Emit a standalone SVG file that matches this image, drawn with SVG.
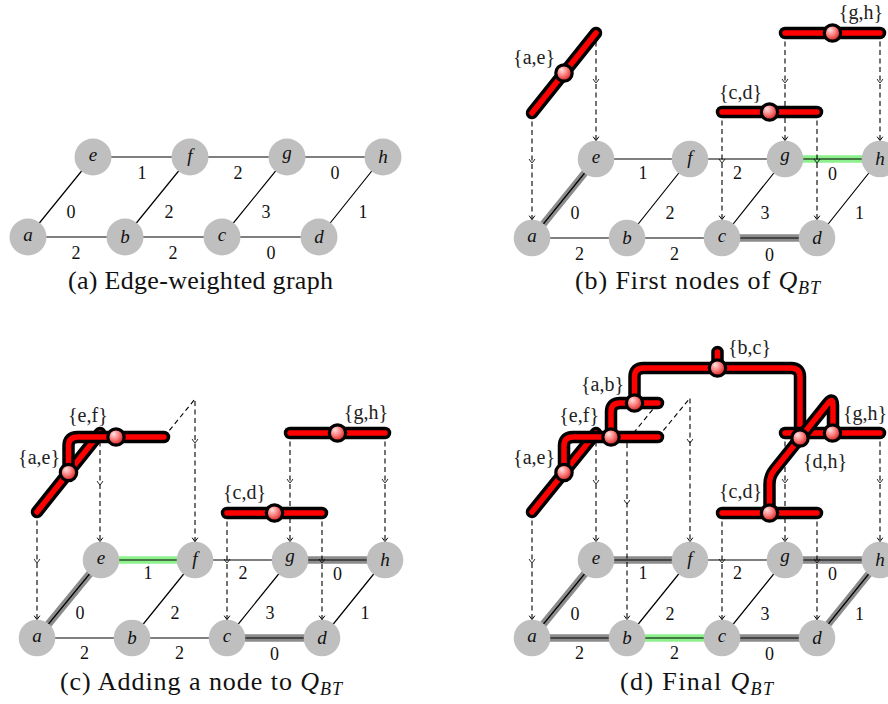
<svg xmlns="http://www.w3.org/2000/svg" xmlns:xlink="http://www.w3.org/1999/xlink" width="888" height="704" viewBox="0 0 888 704">
<style>
text{font-family:"Liberation Serif","Times New Roman",serif}
.nd{fill:#bfbfbf}
.ed{stroke:#000;stroke-width:1.2;fill:none}
.hg{stroke:#8c8c8c;stroke-width:7.5;fill:none}
.hl{stroke:#8cf08c;stroke-width:7.5;fill:none}
.lb{font-style:italic;font-size:19px;text-anchor:middle;fill:#111}
.wt{font-size:18px;text-anchor:middle;fill:#111}
.tl{font-size:20px;fill:#222}
.cap{font-size:26px;text-anchor:middle;fill:#111}
.dsh{stroke:#000;stroke-width:1.1;stroke-dasharray:5 3.5;fill:none}
.bk{stroke:#000;stroke-width:12.5;stroke-linecap:round;stroke-linejoin:round;fill:none}
.rd{stroke:#ff0000;stroke-width:5.5;stroke-linecap:round;stroke-linejoin:round;fill:none}
.tn{fill:url(#ball);stroke:#000;stroke-width:3.2}
</style>
<defs>
<radialGradient id="ball" cx="0.42" cy="0.4" r="0.62" fx="0.35" fy="0.3">
<stop offset="0" stop-color="#ffe4e4"/>
<stop offset="0.45" stop-color="#ff8a8a"/>
<stop offset="1" stop-color="#d81818"/>
</radialGradient>
<path id="ah" d="M-2.8,-3.8 C-1.6,-1.9 -0.5,-0.6 0,0 C0.5,-0.6 1.6,-1.9 2.8,-3.8" fill="none" stroke="#000" stroke-width="1"/>
</defs>

<!-- ================= Panel (a) ================= -->
<g id="panel-a">
<g id="a-edges">
<path class="ed" d="M28,237H319M93,157H383M28,237L93,157M125,237L190,157M222,237L287,157M319,237L383,157"/>
</g>
<g id="a-a"><circle class="nd" cx="28" cy="237" r="18.5"/><text class="lb" x="28" y="241">a</text></g>
<g id="a-b"><circle class="nd" cx="125" cy="237" r="18.5"/><text class="lb" x="125" y="243">b</text></g>
<g id="a-c"><circle class="nd" cx="222" cy="237" r="18.5"/><text class="lb" x="222" y="241">c</text></g>
<g id="a-d"><circle class="nd" cx="319" cy="237" r="18.5"/><text class="lb" x="319" y="243">d</text></g>
<g id="a-e"><circle class="nd" cx="93" cy="157" r="18.5"/><text class="lb" x="93" y="161">e</text></g>
<g id="a-f"><circle class="nd" cx="190" cy="157" r="18.5"/><text class="lb" x="190" y="161.5">f</text></g>
<g id="a-g"><circle class="nd" cx="287" cy="157" r="18.5"/><text class="lb" x="287" y="159">g</text></g>
<g id="a-h"><circle class="nd" cx="383" cy="157" r="18.5"/><text class="lb" x="383" y="163">h</text></g>
<g id="a-weights">
<text class="wt" x="142" y="179">1</text><text class="wt" x="238" y="179">2</text><text class="wt" x="335" y="179">0</text>
<text class="wt" x="71" y="218">0</text><text class="wt" x="169" y="218">2</text><text class="wt" x="266" y="218">3</text><text class="wt" x="363" y="218">1</text>
<text class="wt" x="76" y="259">2</text><text class="wt" x="173" y="259">2</text><text class="wt" x="271" y="259">0</text>
</g>
<text class="cap" x="200.5" y="289" textLength="265" lengthAdjust="spacing">(a) Edge-weighted graph</text>
</g>

<!-- ================= Panel (b) ================= -->
<g id="panel-b">
<g id="b-edges">
<path class="hg" d="M532,238L596,159M722,238H817"/>
<path class="hl" d="M785,159H880"/>
<path class="ed" d="M532,238H817M596,159H880M532,238L596,159M627,238L690,159M722,238L785,159M817,238L880,159"/>
</g>
<g id="b-weights">
<text class="wt" x="643" y="179">1</text><text class="wt" x="737.5" y="179">2</text><text class="wt" x="832.5" y="180">0</text>
<text class="wt" x="575" y="219">0</text><text class="wt" x="670" y="219">2</text><text class="wt" x="765" y="219">3</text><text class="wt" x="859.5" y="219">1</text>
<text class="wt" x="579.5" y="260">2</text><text class="wt" x="674.5" y="260">2</text><text class="wt" x="769.5" y="261">0</text>
</g>
<g id="b-a"><circle class="nd" cx="532" cy="238" r="18.3"/><text class="lb" x="532" y="242">a</text></g>
<g id="b-b"><circle class="nd" cx="627" cy="238" r="18.3"/><text class="lb" x="627" y="244">b</text></g>
<g id="b-c"><circle class="nd" cx="722" cy="238" r="18.3"/><text class="lb" x="722" y="242">c</text></g>
<g id="b-d"><circle class="nd" cx="817" cy="238" r="18.3"/><text class="lb" x="817" y="244">d</text></g>
<g id="b-e"><circle class="nd" cx="596" cy="159" r="18.3"/><text class="lb" x="596" y="163">e</text></g>
<g id="b-f"><circle class="nd" cx="690" cy="159" r="18.3"/><text class="lb" x="690" y="163.5">f</text></g>
<g id="b-g"><circle class="nd" cx="785" cy="159" r="18.3"/><text class="lb" x="785" y="161">g</text></g>
<g id="b-h"><circle class="nd" cx="880" cy="159" r="18.3"/><text class="lb" x="880" y="165">h</text></g>
<g id="b-connectors">
<path class="dsh" d="M532,113V219.5M596,33V140.5M722,112V219.5M817,112V219.5M785,33V140.5M880,33V140.5"/>
<use xlink:href="#ah" x="532" y="163"/><use xlink:href="#ah" x="532" y="219.5"/>
<use xlink:href="#ah" x="596" y="83"/><use xlink:href="#ah" x="596" y="140.5"/>
<use xlink:href="#ah" x="722" y="163"/><use xlink:href="#ah" x="722" y="219.5"/>
<use xlink:href="#ah" x="817" y="163"/><use xlink:href="#ah" x="817" y="219.5"/>
<use xlink:href="#ah" x="785" y="83"/><use xlink:href="#ah" x="785" y="140.5"/>
<use xlink:href="#ah" x="880" y="83"/><use xlink:href="#ah" x="880" y="140.5"/>
</g>
<g id="b-ae"><path class="bk" d="M532,113L596,33"/><path class="rd" d="M532,113L596,33"/><circle class="tn" cx="564" cy="73" r="8.2"/><text class="tl" x="555" y="64" text-anchor="end">{a,e}</text></g>
<g id="b-cd"><path class="bk" d="M722,112H817"/><path class="rd" d="M722,112H817"/><circle class="tn" cx="769.5" cy="112" r="8.2"/><text class="tl" x="719" y="99">{c,d}</text></g>
<g id="b-gh"><path class="bk" d="M785,33H880"/><path class="rd" d="M785,33H880"/><circle class="tn" cx="832.5" cy="33" r="8.2"/><text class="tl" x="883" y="19" text-anchor="end">{g,h}</text></g>
<text class="cap" x="697.5" y="289" textLength="245" lengthAdjust="spacing">(b) First nodes of <tspan font-style="italic">Q</tspan><tspan font-style="italic" font-size="18" dy="5">BT</tspan></text>
</g>

<!-- ================= Panel (c) ================= -->
<g id="panel-c">
<g id="c-edges">
<path class="hg" d="M37,638L101,560M227,638H322M290,560H385"/>
<path class="hl" d="M101,560H195"/>
<path class="ed" d="M37,638H322M101,560H385M37,638L101,560M132,638L195,560M227,638L290,560M322,638L385,560"/>
</g>
<g id="c-weights">
<text class="wt" x="148" y="579">1</text><text class="wt" x="243" y="579">2</text><text class="wt" x="337.5" y="580">0</text>
<text class="wt" x="80" y="619">0</text><text class="wt" x="175" y="619">2</text><text class="wt" x="270" y="619">3</text><text class="wt" x="365" y="619">1</text>
<text class="wt" x="84.5" y="659">2</text><text class="wt" x="179.5" y="659">2</text><text class="wt" x="274.5" y="660">0</text>
</g>
<g id="c-a"><circle class="nd" cx="37" cy="638" r="18.3"/><text class="lb" x="37" y="642">a</text></g>
<g id="c-b"><circle class="nd" cx="132" cy="638" r="18.3"/><text class="lb" x="132" y="644">b</text></g>
<g id="c-c"><circle class="nd" cx="227" cy="638" r="18.3"/><text class="lb" x="227" y="642">c</text></g>
<g id="c-d"><circle class="nd" cx="322" cy="638" r="18.3"/><text class="lb" x="322" y="644">d</text></g>
<g id="c-e"><circle class="nd" cx="101" cy="560" r="18.3"/><text class="lb" x="101" y="564">e</text></g>
<g id="c-f"><circle class="nd" cx="195" cy="560" r="18.3"/><text class="lb" x="195" y="564.5">f</text></g>
<g id="c-g"><circle class="nd" cx="290" cy="560" r="18.3"/><text class="lb" x="290" y="562">g</text></g>
<g id="c-h"><circle class="nd" cx="385" cy="560" r="18.3"/><text class="lb" x="385" y="566">h</text></g>
<g id="c-connectors">
<path class="dsh" d="M37,512V619.5M100,433V541.5M164,437L195,399V541.5M227,513V619.5M322,513V619.5M290,433V541.5M385,433V541.5"/>
<use xlink:href="#ah" x="37" y="563"/><use xlink:href="#ah" x="37" y="619.5"/>
<use xlink:href="#ah" x="100" y="485"/><use xlink:href="#ah" x="100" y="541.5"/>
<use xlink:href="#ah" x="195" y="443"/><use xlink:href="#ah" x="195" y="541.5"/>
<use xlink:href="#ah" x="227" y="563"/><use xlink:href="#ah" x="227" y="619.5"/>
<use xlink:href="#ah" x="322" y="563"/><use xlink:href="#ah" x="322" y="619.5"/>
<use xlink:href="#ah" x="290" y="483"/><use xlink:href="#ah" x="290" y="541.5"/>
<use xlink:href="#ah" x="385" y="483"/><use xlink:href="#ah" x="385" y="541.5"/>
</g>
<g id="c-ae"><path class="bk" d="M37,512L100,433"/><path class="rd" d="M37,512L100,433"/></g>
<g id="c-ef"><path class="bk" d="M68.5,472.5V446Q68.5,437 77.5,437H164"/><path class="rd" d="M68.5,472.5V446Q68.5,437 77.5,437H164"/><circle class="tn" cx="116" cy="437" r="8.2"/><text class="tl" x="68" y="422">{e,f}</text></g>
<g id="c-ae-node"><circle class="tn" cx="68.5" cy="472.5" r="8.2"/><text class="tl" x="60" y="464" text-anchor="end">{a,e}</text></g>
<g id="c-cd"><path class="bk" d="M227,513H322"/><path class="rd" d="M227,513H322"/><circle class="tn" cx="274.5" cy="513" r="8.2"/><text class="tl" x="223" y="499">{c,d}</text></g>
<g id="c-gh"><path class="bk" d="M290,433H385"/><path class="rd" d="M290,433H385"/><circle class="tn" cx="337.5" cy="433" r="8.2"/><text class="tl" x="388" y="419" text-anchor="end">{g,h}</text></g>
<text class="cap" x="201" y="690" textLength="282" lengthAdjust="spacing">(c) Adding a node to <tspan font-style="italic">Q</tspan><tspan font-style="italic" font-size="18" dy="5">BT</tspan></text>
</g>

<!-- ================= Panel (d) ================= -->
<g id="panel-d">
<g id="d-edges">
<path class="hg" d="M532,638L596,560M596,560H690M532,638H627M722,638H817M785,560H880M817,638L880,560"/>
<path class="hl" d="M627,638H722"/>
<path class="ed" d="M532,638H817M596,560H880M532,638L596,560M627,638L690,560M722,638L785,560M817,638L880,560"/>
</g>
<g id="d-weights">
<text class="wt" x="643" y="579">1</text><text class="wt" x="737.5" y="579">2</text><text class="wt" x="832.5" y="580">0</text>
<text class="wt" x="575" y="619.5">0</text><text class="wt" x="670" y="619.5">2</text><text class="wt" x="765" y="619.5">3</text><text class="wt" x="859.5" y="619.5">1</text>
<text class="wt" x="579.5" y="659">2</text><text class="wt" x="674.5" y="659">2</text><text class="wt" x="769.5" y="660">0</text>
</g>
<g id="d-a"><circle class="nd" cx="532" cy="638" r="18.3"/><text class="lb" x="532" y="642">a</text></g>
<g id="d-b"><circle class="nd" cx="627" cy="638" r="18.3"/><text class="lb" x="627" y="644">b</text></g>
<g id="d-c"><circle class="nd" cx="722" cy="638" r="18.3"/><text class="lb" x="722" y="642">c</text></g>
<g id="d-d"><circle class="nd" cx="817" cy="638" r="18.3"/><text class="lb" x="817" y="644">d</text></g>
<g id="d-e"><circle class="nd" cx="596" cy="560" r="18.3"/><text class="lb" x="596" y="564">e</text></g>
<g id="d-f"><circle class="nd" cx="690" cy="560" r="18.3"/><text class="lb" x="690" y="564.5">f</text></g>
<g id="d-g"><circle class="nd" cx="785" cy="560" r="18.3"/><text class="lb" x="785" y="562">g</text></g>
<g id="d-h"><circle class="nd" cx="880" cy="560" r="18.3"/><text class="lb" x="880" y="566">h</text></g>
<g id="d-connectors">
<path class="dsh" d="M532,512V619.5M596,433V541.5M658,403L627,441V619.5M658,437L690,398V541.5M722,513V619.5M817,513V619.5M785,433V541.5M880,433V541.5"/>
<use xlink:href="#ah" x="532" y="563"/><use xlink:href="#ah" x="532" y="619.5"/>
<use xlink:href="#ah" x="596" y="484"/><use xlink:href="#ah" x="596" y="541.5"/>
<use xlink:href="#ah" x="627" y="504"/><use xlink:href="#ah" x="627" y="619.5"/>
<use xlink:href="#ah" x="690" y="443"/><use xlink:href="#ah" x="690" y="541.5"/>
<use xlink:href="#ah" x="722" y="563"/><use xlink:href="#ah" x="722" y="619.5"/>
<use xlink:href="#ah" x="817" y="563"/><use xlink:href="#ah" x="817" y="619.5"/>
<use xlink:href="#ah" x="785" y="483"/><use xlink:href="#ah" x="785" y="541.5"/>
<use xlink:href="#ah" x="880" y="483"/><use xlink:href="#ah" x="880" y="541.5"/>
</g>
<g id="d-ae"><path class="bk" d="M532,512L596,433"/><path class="rd" d="M532,512L596,433"/></g>
<g id="d-ef"><path class="bk" d="M564,472.5V446Q564,437 573,437H658"/><path class="rd" d="M564,472.5V446Q564,437 573,437H658"/></g>
<g id="d-ab"><path class="bk" d="M611,437V412Q611,403 620,403H658"/><path class="rd" d="M611,437V412Q611,403 620,403H658"/></g>
<g id="d-bc"><path class="bk" d="M634.5,403V377Q634.5,368 643.5,368H791Q800,368 800,377V438M717.5,368V352"/><path class="rd" d="M634.5,403V377Q634.5,368 643.5,368H791Q800,368 800,377V438M717.5,368V352"/></g>
<g id="d-gh"><path class="bk" d="M785,433H880"/><path class="rd" d="M785,433H880"/></g>
<g id="d-cd"><path class="bk" d="M722,513H817"/><path class="rd" d="M722,513H817"/></g>
<g id="d-dh"><path class="bk" d="M769.5,513V484Q769.5,476 774.5,469.8L828,403.2Q833,397 833,405V433"/><path class="rd" d="M769.5,513V484Q769.5,476 774.5,469.8L828,403.2Q833,397 833,405V433"/></g>
<g id="d-tree-nodes">
<circle class="tn" cx="564" cy="472.5" r="8.2"/><text class="tl" x="555" y="464" text-anchor="end">{a,e}</text>
<circle class="tn" cx="611" cy="437" r="8.2"/><text class="tl" x="599" y="422" text-anchor="end">{e,f}</text>
<circle class="tn" cx="634.5" cy="403" r="8.2"/><text class="tl" x="624" y="391" text-anchor="end">{a,b}</text>
<circle class="tn" cx="717.5" cy="368" r="8.2"/><text class="tl" x="728" y="354">{b,c}</text>
<circle class="tn" cx="800" cy="438" r="8.2"/><text class="tl" x="803" y="468">{d,h}</text>
<circle class="tn" cx="769.5" cy="513" r="8.2"/><text class="tl" x="719" y="498">{c,d}</text>
<circle class="tn" cx="832.5" cy="433" r="8.2"/><text class="tl" x="843" y="420">{g,h}</text>
</g>
<text class="cap" x="696.5" y="690" textLength="153" lengthAdjust="spacing">(d) Final <tspan font-style="italic">Q</tspan><tspan font-style="italic" font-size="18" dy="5">BT</tspan></text>
</g>
</svg>
